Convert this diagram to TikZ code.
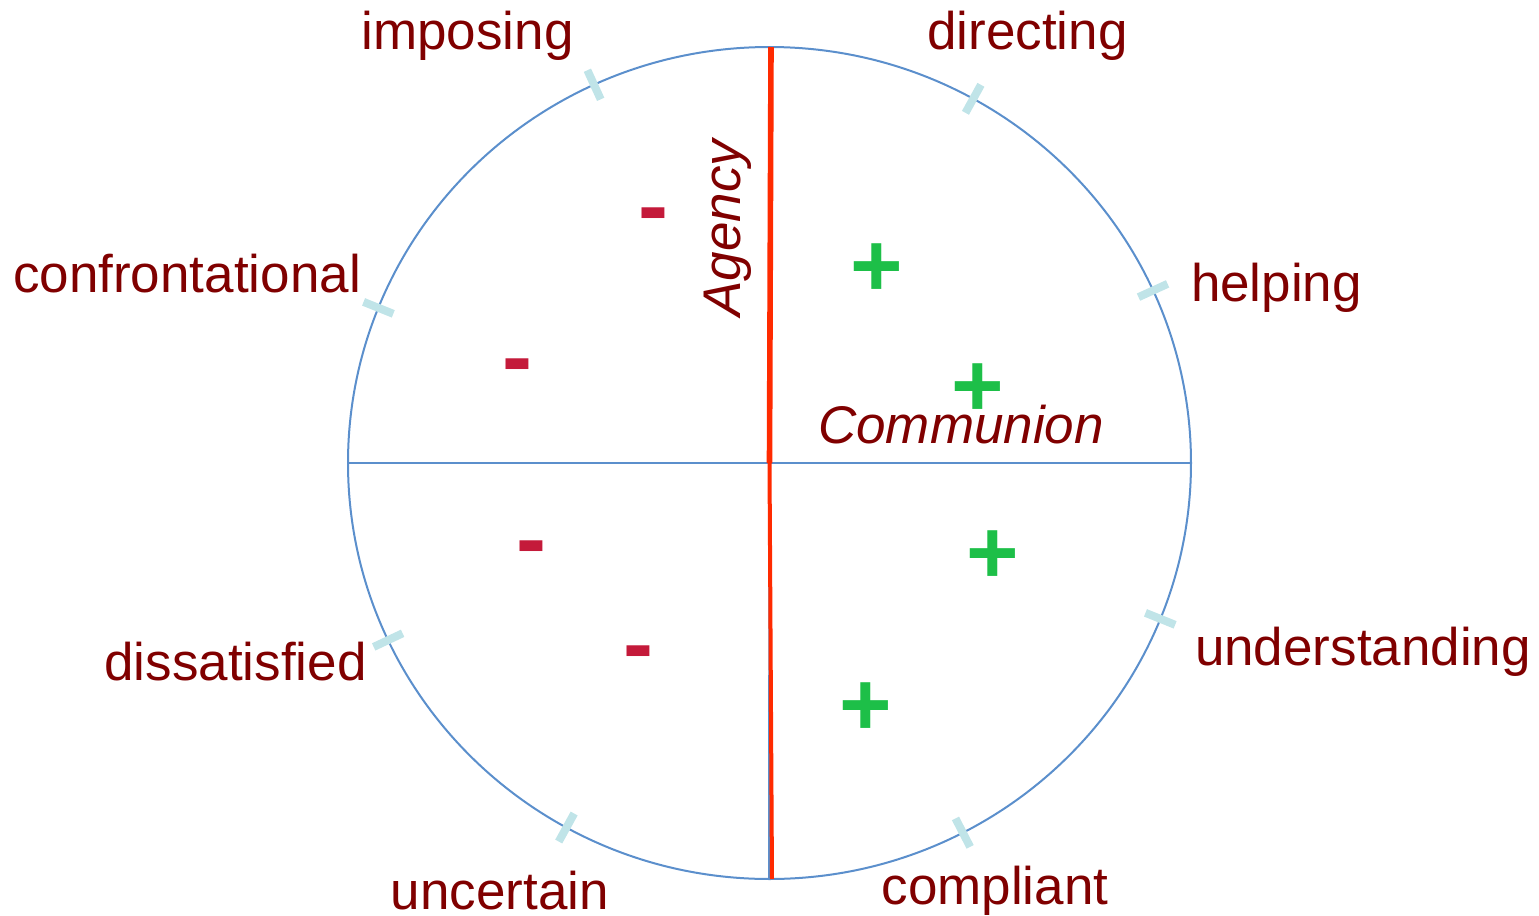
\documentclass[tikz,border=0pt]{standalone}
\usepackage{fontspec}
\setmainfont{Liberation Sans}
\definecolor{cwlabel}{HTML}{800000}
\definecolor{cwrim}{HTML}{5B8FCC}
\definecolor{cwaxis}{HTML}{FF2A00}
\definecolor{cwtick}{HTML}{C0E4E8}
\definecolor{cwplus}{HTML}{1DBF48}
\definecolor{cwminus}{HTML}{C41A3A}
\usetikzlibrary{calc}

\begin{document}
\begin{tikzpicture}[x=0.5pt, y=-0.5pt,
  lbl/.style={text=cwlabel, font=\fontsize{26.5}{31}\selectfont, anchor=base, inner sep=0pt},
  axislbl/.style={lbl, font=\fontsize{26.5}{31}\selectfont\itshape},
  plussign/.style={text=cwplus, font=\fontsize{45}{50}\selectfont\bfseries, anchor=base, inner sep=0pt},
  minussign/.style={text=cwminus, font=\fontsize{45}{50}\selectfont\bfseries, anchor=base, inner sep=0pt},
  rim/.style={draw=cwrim, line width=1pt},
  axisline/.style={draw=cwaxis, line width=2.8pt},
  tickmark/.style={draw=cwtick, line width=4pt},
]
  \useasboundingbox (0,0) rectangle (1539,916);
  \coordinate (c) at (769.5,463);
  \coordinate (top) at (771,47);
  \coordinate (bot) at (772,879);
  \coordinate (botrim) at (769,879);
  \coordinate (west) at (348,463);
  \coordinate (east) at (1191,463);

  \draw[rim] (c) ellipse [x radius=421.5, y radius=416];
  \draw[rim] (west) -- (east);
  \draw[rim] (c) -- (botrim);
  \draw[axisline] (top) -- (c);
  \draw[axisline, line width=2pt] (c) -- (bot);

  \foreach \a in {114.6, 61.1, 24.5, -22, -62.7, -118.8, -154.8, 158.1}
    \draw[tickmark] ({769.5+405.5*cos(\a)},{463-400*sin(\a)})
      -- ({769.5+437.5*cos(\a)},{463-432*sin(\a)});

  \node[lbl] (imposing) at (467.5,49) {imposing};
  \node[lbl] (directing) at (1027.5,49) {directing};
  \node[lbl] (confront) at (187,292) {confrontational};
  \node[lbl] (helping) at (1276.5,301) {helping};
  \node[lbl] (dissat) at (235.5,680) {dissatisfied};
  \node[lbl] (underst) at (1363,665) {understanding};
  \node[lbl] (uncertain) at (500,909) {uncertain};
  \node[lbl] (compliant) at (995,904) {compliant};

  \node[axislbl] (communion) at (961,443) {Communion};
  \node[axislbl, rotate=90] (agency) at (740,228) {Agency};

  \node[minussign] (m1) at (653,236.5) {-};
  \node[minussign] (m2) at (517,387) {-};
  \node[minussign] (m3) at (531.5,569) {-};
  \node[minussign] (m4) at (638,674.5) {-};

  \node[plussign] (p1) at (876.5,296) {+};
  \node[plussign] (p2) at (978,416.5) {+};
  \node[plussign] (p3) at (992.5,583) {+};
  \node[plussign] (p4) at (866,735) {+};
\end{tikzpicture}
\end{document}
